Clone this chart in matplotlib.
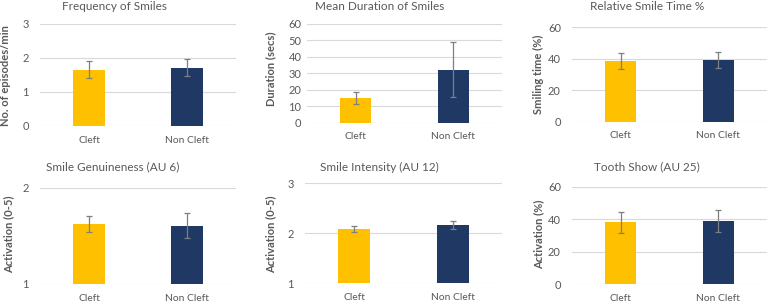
import matplotlib
matplotlib.use("Agg")
import matplotlib.pyplot as plt

plt.rcParams['font.family'] = ['Lato', 'DejaVu Sans']

W, H = 770, 303

groups = ['Cleft', 'Non Cleft']
colors = ['#FFC000', '#203864']

titles = ['Frequency of Smiles', 'Mean Duration of Smiles', 'Relative Smile Time %',
          'Smile Genuineness (AU 6)', 'Smile Intensity (AU 12)', 'Tooth Show (AU 25)']
ylabels = ['No. of episodes/min', 'Duration (secs)', 'Smiling time (%)',
           'Activation (0-5)', 'Activation (0-5)', 'Activation (%)']

freq_mean = [1.65, 1.71]
freq_err = [0.25, 0.25]
dur_mean = [14.8, 32.2]
dur_err = [3.7, 16.8]
rel_mean = [38.7, 39.0]
rel_err = [5.0, 5.1]
genu_mean = [1.626, 1.605]
genu_err = [0.085, 0.13]
inten_mean = [2.09, 2.17]
inten_err = [0.065, 0.08]
tooth_mean = [38.0, 38.9]
tooth_err = [6.7, 7.0]

means = [freq_mean, dur_mean, rel_mean, genu_mean, inten_mean, tooth_mean]
errs = [freq_err, dur_err, rel_err, genu_err, inten_err, tooth_err]
yticks = [[0, 1, 2, 3], [0, 10, 20, 30, 40, 50, 60], [0, 20, 40, 60],
          [1, 2], [1, 2, 3], [0, 20, 40, 60]]

# pixel boxes of each plot area: x0, x1, ytop, ybottom
boxes = [(40, 236, 24, 126), (307, 502, 24, 122.7), (572, 767, 27.3, 121.7),
         (40, 236, 187.7, 284), (305, 502, 183.3, 283.3), (572, 767, 186.7, 284.3)]
title_pos = [(114, 7), (380, 7), (647, 7), (113, 166.5), (379, 167), (647, 166.5)]
ylabel_pos = [(6, 76), (271, 69), (538, 74), (9, 234), (271, 234), (539, 234)]
tick_pad = [8, 4, 8, 8, 8, 8]

fig = plt.figure(figsize=(W / 100, H / 100), dpi=100)

for i in range(6):
    x0, x1, yt, yb = boxes[i]
    ax = fig.add_axes([x0 / W, 1 - yb / H, (x1 - x0) / W, (yb - yt) / H])
    ax.bar([0, 1], means[i], width=0.32, color=colors, zorder=2)
    ax.errorbar([0, 1], means[i], yerr=errs[i], fmt='none', ecolor='#7F7F7F',
                elinewidth=0.9, capsize=2, capthick=0.9, zorder=3)
    ax.set_xlim(-0.5, 1.5)
    ax.set_ylim(yticks[i][0], yticks[i][-1])
    ax.set_yticks(yticks[i])
    ax.set_xticks([0, 1])
    ax.set_xticklabels(groups)
    ax.tick_params(axis='both', length=0, labelsize=8, labelcolor='#595959')
    ax.tick_params(axis='x', labelsize=7.4, pad=7)
    ax.tick_params(axis='y', pad=tick_pad[i])
    ax.grid(axis='y', color='#D9D9D9', lw=0.8, zorder=0)
    for s in ax.spines.values():
        s.set_visible(False)
    ax.set_axisbelow(True)
    tx, ty = title_pos[i]
    fig.text(tx / W, 1 - ty / H, titles[i], ha='center', va='center',
             fontsize=8.5, color='#595959')
    lx, ly = ylabel_pos[i]
    fig.text(lx / W, 1 - ly / H, ylabels[i], ha='center', va='center',
             rotation=90, fontsize=8, fontweight='bold', color='#595959')

fig.savefig('out.png', dpi=100)
